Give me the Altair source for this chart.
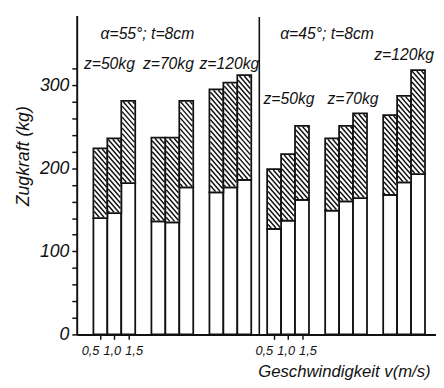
import altair as alt
import pandas as pd
import numpy as np

# ---------------- data ----------------
panels = ["α=55°; t=8cm", "α=45°; t=8cm"]
loads = ["z=50kg", "z=70kg", "z=120kg"]
speeds = ["0,5", "1,0", "1,5"]
# lower (white) part of each bar, per load group, speeds 0.5 / 1.0 / 1.5
lower_55 = [140, 146, 182, 136, 135, 177, 171, 177, 186]
total_55 = [224, 236, 281, 237, 237, 281, 295, 303, 312]
lower_45 = [127, 137, 162, 149, 160, 164, 168, 183, 193]
total_45 = [199, 217, 251, 236, 251, 266, 264, 287, 318]
y_ticks = list(range(0, 321, 20))

# ---------------- layout ----------------
W, H = 366, 325
YMAX = 384
BAR_W = 14.2
GAP = 16.5
PANEL_START = [17, 194]
DIVIDER = 186
K = H / YMAX  # px per kg
FONT = "Liberation Sans"
INK = "#111111"
TICK_LABEL_SHIFT = [-10, -2, 6]

lowers = [lower_55, lower_45]
totals = [total_55, total_45]
rows = []
for p in range(2):
    for g in range(3):
        for s in range(3):
            i = g * 3 + s
            x0 = PANEL_START[p] + g * (3 * BAR_W + GAP) + s * BAR_W
            rows.append(dict(panel=panels[p], load=loads[g], speed=speeds[s],
                             p=p, g=g, s=s, x0=x0, x1=x0 + BAR_W,
                             lower=lowers[p][i], total=totals[p][i]))
df = pd.DataFrame(rows)

# hatch segments inside upper (hatched) parts
SLOPE = 1.15
STEP = 5.6
IN = 0.9
segs = []
for r in df.itertuples():
    xa0, xb0 = r.x0 + IN, r.x1 - IN
    yt = (YMAX - r.total) * K + IN
    yb = (YMAX - r.lower) * K - IN
    cmin = yt - SLOPE * xb0
    cmax = yb - SLOPE * xa0
    n0 = int(np.floor(cmin / STEP))
    n1 = int(np.ceil(cmax / STEP))
    for n in range(n0, n1 + 1):
        c = n * STEP
        xa = max(xa0, (yt - c) / SLOPE)
        xb = min(xb0, (yb - c) / SLOPE)
        if xb - xa > 0.4:
            segs.append(dict(hx=xa, hx2=xb,
                             hy=YMAX - (c + SLOPE * xa) / K,
                             hy2=YMAX - (c + SLOPE * xb) / K))
hatch = pd.DataFrame(segs)

xs = alt.Scale(domain=[0, W], nice=False, zero=False)
ys = alt.Scale(domain=[0, YMAX], nice=False, zero=True)

first = df[df.g == 0].copy()
first["xc"] = (first.x0 + first.x1) / 2
first["xl"] = first.xc + [TICK_LABEL_SHIFT[s] for s in first.s]
first["zero"] = 0
tick_x = list(first.xc)

x_axis = alt.Axis(values=tick_x, labels=False, tickSize=5, tickWidth=1.5,
                  tickColor=INK, domainColor=INK, domainWidth=2, grid=False,
                  title="Geschwindigkeit v(m/s)", titleX=W - 6, titleY=38,
                  titleAlign="right", titleBaseline="middle", titleFont=FONT,
                  titleFontSize=17, titleFontStyle="italic",
                  titleFontWeight="normal", titleColor=INK)
y_axis = alt.Axis(values=y_ticks,
                  labelExpr="datum.value % 100 == 0 ? datum.label : ''",
                  tickSize=5, tickWidth=1.5, tickColor=INK, domainColor=INK,
                  domainWidth=2, grid=False, labelFont=FONT, labelFontSize=18,
                  labelFontStyle="italic", labelColor=INK, labelPadding=3,
                  title="Zugkraft (kg)", titleX=-54, titleY=143, titleAngle=270,
                  titleAlign="center", titleBaseline="middle", titleFont=FONT,
                  titleFontSize=18, titleFontStyle="italic",
                  titleFontWeight="normal", titleColor=INK)


def X(field):
    return alt.X(field, scale=xs, axis=x_axis)


def Y(field):
    return alt.Y(field, scale=ys, axis=y_axis)


base = alt.Chart(df)
lower_rect = base.mark_rect(fill="white", stroke=INK, strokeWidth=1.8).encode(
    x=X("x0:Q"), x2="x1:Q", y=Y("lower:Q"), y2=alt.datum(0),
)
upper_rect = base.mark_rect(fill="white", stroke=INK, strokeWidth=1.8).encode(
    x=X("x0:Q"), x2="x1:Q", y=Y("total:Q"), y2="lower:Q",
)
hatch_lines = alt.Chart(hatch).mark_rule(color=INK, strokeWidth=1.5).encode(
    x=X("hx:Q"), x2="hx2:Q", y=Y("hy:Q"), y2="hy2:Q",
)
divider = alt.Chart(pd.DataFrame({"x": [DIVIDER], "y": [0], "y2": [YMAX - 2]})).mark_rule(
    color=INK, strokeWidth=1.6).encode(
    x=X("x:Q"), y=Y("y:Q"), y2="y2:Q",
)

# annotations
group_c = [PANEL_START[p] + g * (3 * BAR_W + GAP) + 1.5 * BAR_W for p in range(2) for g in range(3)]
ann = pd.DataFrame({
    "text": panels + loads + loads,
    "x": [72, 255] + [group_c[0] - 5, group_c[1] - 4, group_c[2] - 1,
                     group_c[3] + 1, group_c[4] + 7, group_c[5]],
    "y": [362, 362, 325, 325, 325, 283, 283, 336],
})
ann_text = alt.Chart(ann).mark_text(font=FONT, fontSize=16, fontStyle="italic",
                                    color=INK, baseline="middle").encode(
    x=X("x:Q"), y=Y("y:Q"), text="text:N",
)
tick_lab = alt.Chart(first).mark_text(font=FONT, fontSize=13, fontStyle="italic",
                                      color=INK, baseline="middle", dy=17).encode(
    x=X("xl:Q"), y=Y("zero:Q"), text="speed:N",
)

chart = alt.layer(lower_rect, upper_rect, hatch_lines, divider, ann_text, tick_lab).properties(
    width=W, height=H,
    autosize=alt.AutoSizeParams(type="none"),
    padding={"left": 70, "top": 4, "right": 0, "bottom": 48},
    background="white",
).configure_view(stroke=None)

chart.save("out.html", embed_options={"renderer": "svg", "actions": False})
